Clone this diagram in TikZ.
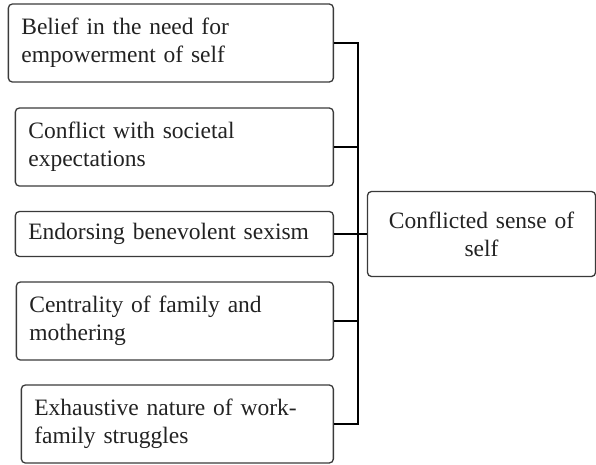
\documentclass[tikz,border=0pt]{standalone}
\usepackage{fontspec}
\setmainfont{Liberation Serif}
\usetikzlibrary{positioning}
\definecolor{cLine}{HTML}{3A3A3A}
\definecolor{cText}{HTML}{222222}
\tikzset{
  factor/.style={draw=cLine,line width=1.3pt,rounded corners=4pt,anchor=east,align=left,text width=#1,inner xsep=13pt,inner ysep=0pt,minimum height=78pt,text=cText,font=\fontsize{23.5}{28}\selectfont},
  outcome/.style={draw=cLine,line width=1.3pt,rounded corners=4pt,align=center,text width=208pt,inner xsep=10pt,minimum height=85pt,text=cText,font=\fontsize{23.5}{28}\selectfont},
  link/.style={line width=1.8pt,draw=black},
}
\begin{document}
\begin{tikzpicture}[x=1pt,y=-1pt]
  \useasboundingbox (0,0) rectangle (596,464);
  \node[factor=299pt] (belief) at (334,43) {Belief in the need for\\empowerment of self};
  \node[factor=292pt] (conflict) at (334,147) {Conflict with societal\\expectations};
  \node[factor=292pt,minimum height=45pt] (sexism) at (334,234) {Endorsing benevolent sexism};
  \node[factor=291pt] (family) at (334,321) {Centrality of family and\\mothering};
  \node[factor=286pt] (struggle) at (334,424) {Exhaustive nature of work-\\family struggles};
  \node[outcome] (self) at (481.5,234) {Conflicted sense of\\self};

  \coordinate (hub) at (358,234);
  \draw[link] (belief.east) -| (hub);
  \draw[link] (conflict.east) -| (hub);
  \draw[link] (sexism.east) -- (hub);
  \draw[link] (family.east) -| (hub);
  \draw[link] (struggle.east) -| (hub);
  \draw[link] (hub) -- (self.west);
\end{tikzpicture}
\end{document}
